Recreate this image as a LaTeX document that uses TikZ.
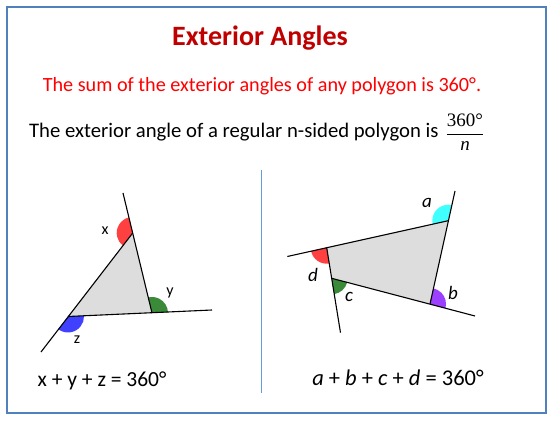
\documentclass[tikz,border=0pt]{standalone}
\usepackage{amsmath}
\usepackage{fontspec}
\setmainfont{Carlito}
\newfontfamily\tnr{Liberation Serif}
\usepackage{xcolor}
\usepackage{tikz}
\usetikzlibrary{positioning,calc,angles}
\definecolor{framecol}{RGB}{79,129,189}
\definecolor{sepcol}{RGB}{100,155,220}
\definecolor{titlecol}{RGB}{192,0,0}
\definecolor{polycol}{RGB}{221,221,221}
\definecolor{angred}{RGB}{255,64,64}
\definecolor{anggreen}{RGB}{58,138,58}
\definecolor{angblue}{RGB}{64,64,255}
\definecolor{angcyan}{RGB}{64,255,255}
\definecolor{angpurple}{RGB}{155,64,255}
\tikzset{sector/.style={angle radius=16pt, fill=#1}}

\begin{document}
\begin{tikzpicture}[x=1pt, y=1pt]
						\useasboundingbox (0,0) rectangle (553,420);
						\draw[framecol, line width=1.5pt] (7,7) rectangle (546,413);
						\draw[sepcol, line width=1pt] (261,250) -- (261,27);
						\node[font=\bfseries\fontsize{28}{32}\selectfont, text=titlecol] (title) at (260,382) {Exterior Angles};
						\node[font=\fontsize{20.2}{24}\selectfont, text=red, anchor=base] (rule1) at (262,328) {The sum of the exterior angles of any polygon is 360°.};
						\node[font=\fontsize{20.7}{24}\selectfont, anchor=base east] (rule2) at (442,282) {The exterior angle of a regular n-sided polygon is};
						\node[font=\fontsize{19}{20}\selectfont, inner sep=1pt] (frac) at (465,288) {$\dfrac{\text{\tnr 360°}}{\text{\tnr\itshape n}}$};
						\coordinate (vx) at (132.7,187);
						\coordinate (vy) at (152,107);
						\coordinate (vz) at (68,103.5);
						\coordinate (px) at (123,227);
						\coordinate (py) at (212,110);
						\coordinate (pz) at (41,68);
						\fill[polycol] (vx) -- (vy) -- (vz) -- cycle;
						\pic[sector=angred] {angle = px--vx--vz};
						\pic[sector=anggreen] {angle = py--vy--vx};
						\pic[sector=angblue] {angle = pz--vz--vy};
						\draw[line width=1.1pt] (px) -- (vy);
						\draw[line width=1.1pt] (vz) -- (py);
						\draw[line width=1.1pt] (vx) -- (pz);
						\node[font=\fontsize{16}{18}\selectfont] (lx) at (105,189) {x};
						\node[font=\fontsize{16}{18}\selectfont] (ly) at (170,127) {y};
						\node[font=\fontsize{16}{18}\selectfont] (lz) at (77,80) {z};
						\coordinate (va) at (448.3,199.3);
						\coordinate (vb) at (430,116);
						\coordinate (vc) at (331.7,141.7);
						\coordinate (vd) at (326.7,172.3);
						\coordinate (pa) at (455,229);
						\coordinate (pb) at (475,104);
						\coordinate (pc) at (340.5,87.3);
						\coordinate (pd) at (287.3,163.5);
						\fill[polycol] (va) -- (vb) -- (vc) -- (vd) -- cycle;
						\pic[sector=angcyan] {angle = pa--va--vd};
						\pic[sector=angpurple] {angle = pb--vb--va};
						\pic[sector=anggreen] {angle = pc--vc--vb};
						\pic[sector=angred] {angle = pd--vd--vc};
						\draw[line width=1.1pt] (vb) -- (pa);
						\draw[line width=1.1pt] (pd) -- (va);
						\draw[line width=1.1pt] (vd) -- (pc);
						\draw[line width=1.1pt] (vc) -- (pb);
						\node[font=\itshape\fontsize{19}{20}\selectfont] (la) at (427,217) {a};
						\node[font=\itshape\fontsize{19}{20}\selectfont] (lb) at (453,127) {b};
						\node[font=\itshape\fontsize{19}{20}\selectfont] (lc) at (349,123) {c};
						\node[font=\itshape\fontsize{19}{20}\selectfont] (ld) at (313,145) {d};
						\node[font=\fontsize{21.5}{24}\selectfont, anchor=base] (sumxyz) at (102,34) {x + y + z = 360°};
						\node[font=\fontsize{22.5}{24}\selectfont, anchor=base] (sumabcd) at (398,35) {\textit{a} + \textit{b} + \textit{c} + \textit{d} = 360°};
					\end{tikzpicture}
\end{document}
